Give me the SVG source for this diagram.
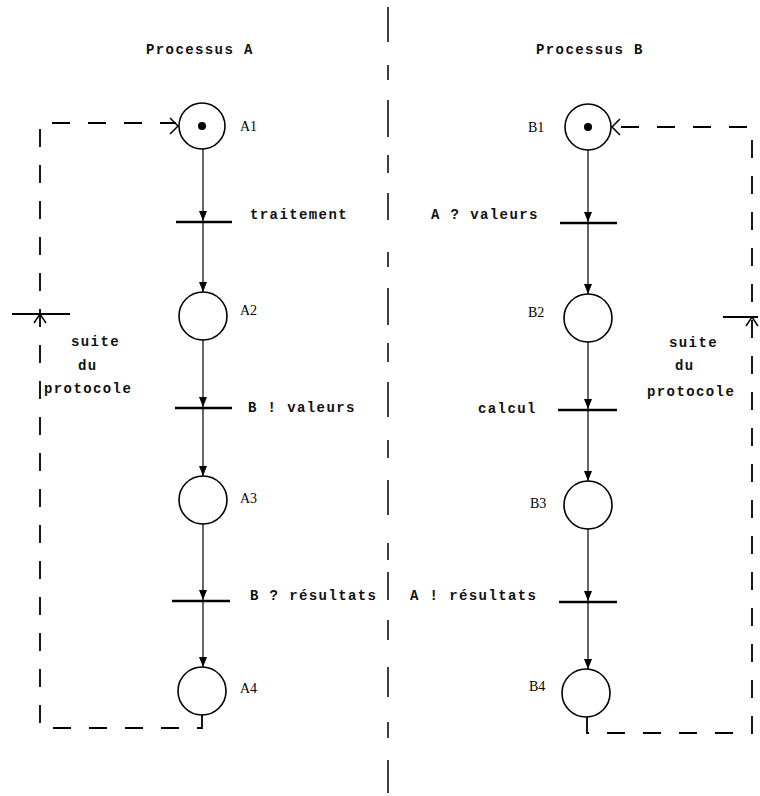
<svg xmlns="http://www.w3.org/2000/svg" width="760" height="796" viewBox="0 0 760 796">
<style>
.place{fill:none;stroke:#000;stroke-width:1.6}
.bar{stroke:#000;stroke-width:2.6}
.arc{stroke:#000;stroke-width:1.2;fill:none}
.dash{stroke:#000;stroke-width:1.8;fill:none;stroke-dasharray:18 18}
.open{stroke:#000;stroke-width:1.5;fill:none}
.txt{font-family:"Liberation Mono","DejaVu Sans Mono",monospace;font-size:14px;font-weight:bold;letter-spacing:1.4px;fill:#111}
.lbl{font-family:"Liberation Serif","DejaVu Serif",serif;font-size:14px;fill:#000}
</style>
<defs>
<marker id="ah" viewBox="0 0 10 8" refX="10" refY="4" markerWidth="10" markerHeight="8" markerUnits="userSpaceOnUse" orient="auto">
<path d="M0,0 L10,4 L0,8 Z" fill="#000"/>
</marker>
</defs>
<rect width="760" height="796" fill="#fff"/>
<g id="divider">
<path d="M388,7 V42 M388,65 V80 M388,100 V137 M388,155 V173 M388,193 V220 M388,252 V267 M388,288 V325 M388,343 V362 M388,382 V417 M388,440 V458 M388,480 V515 M388,543 V560 M388,572 V600 M388,620 V640 M388,667 V697 M388,722 V738 M388,760 V793" stroke="#000" stroke-width="1.5" fill="none"/>
</g>
<g id="titles">
<text class="txt" x="146" y="54">Processus A</text>
<text class="txt" x="536" y="54">Processus B</text>
</g>
<g id="connectors">
<line class="arc" x1="203" y1="149" x2="203" y2="221" marker-end="url(#ah)"/>
<line class="arc" x1="203" y1="221" x2="203" y2="292" marker-end="url(#ah)"/>
<line class="arc" x1="203" y1="340" x2="203" y2="407" marker-end="url(#ah)"/>
<line class="arc" x1="203" y1="407" x2="203" y2="476" marker-end="url(#ah)"/>
<line class="arc" x1="203" y1="524" x2="203" y2="600" marker-end="url(#ah)"/>
<line class="arc" x1="203" y1="600" x2="203" y2="667" marker-end="url(#ah)"/>
<line class="arc" x1="588" y1="150" x2="588" y2="222" marker-end="url(#ah)"/>
<line class="arc" x1="588" y1="222" x2="588" y2="294" marker-end="url(#ah)"/>
<line class="arc" x1="588" y1="342" x2="588" y2="409" marker-end="url(#ah)"/>
<line class="arc" x1="588" y1="409" x2="588" y2="481" marker-end="url(#ah)"/>
<line class="arc" x1="588" y1="529" x2="588" y2="601" marker-end="url(#ah)"/>
<line class="arc" x1="588" y1="601" x2="588" y2="669" marker-end="url(#ah)"/>
<path class="dash" d="M202,715 V728 H40 V123 H176"/>
<path class="open" d="M170,118 L178,126 L170,134"/>
<path class="dash" d="M587,717 V733 H752 V127 H613"/>
<path class="open" d="M620,119 L612,127 L620,135"/>
</g>
<g id="suiteA">
<line class="bar" x1="12" y1="314" x2="70" y2="314" style="stroke-width:1.8"/>
<path class="open" d="M34,323 L40,314 L46,323"/>
<text class="txt" x="71" y="346">suite</text>
<text class="txt" x="78" y="370">du</text>
<text class="txt" x="44" y="393">protocole</text>
</g>
<g id="suiteB">
<line class="bar" x1="723" y1="317" x2="758" y2="317" style="stroke-width:1.8"/>
<path class="open" d="M746,326 L752,317 L758,326"/>
<text class="txt" x="669" y="347">suite</text>
<text class="txt" x="675" y="370">du</text>
<text class="txt" x="647" y="396">protocole</text>
</g>
<g id="A1">
<circle class="place" cx="202" cy="126" r="23"/>
<circle cx="202" cy="126" r="4" fill="#000"/>
<text class="lbl" x="240" y="131">A1</text>
</g>
<g id="tA1">
<line class="bar" x1="176" y1="222" x2="232" y2="222"/>
<text class="txt" x="250" y="219">traitement</text>
</g>
<g id="A2">
<circle class="place" cx="203" cy="316" r="24"/>
<text class="lbl" x="240" y="315">A2</text>
</g>
<g id="tA2">
<line class="bar" x1="175" y1="408" x2="232" y2="408"/>
<text class="txt" x="248" y="412">B ! valeurs</text>
</g>
<g id="A3">
<circle class="place" cx="203" cy="500" r="24"/>
<text class="lbl" x="240" y="503">A3</text>
</g>
<g id="tA3">
<line class="bar" x1="172" y1="601" x2="230" y2="601"/>
<text class="txt" x="250" y="600">B ? résultats</text>
</g>
<g id="A4">
<circle class="place" cx="202" cy="691" r="24"/>
<text class="lbl" x="240" y="693">A4</text>
</g>
<g id="B1">
<circle class="place" cx="588" cy="127" r="23"/>
<circle cx="588" cy="127" r="4" fill="#000"/>
<text class="lbl" x="528" y="132">B1</text>
</g>
<g id="tB1">
<line class="bar" x1="560" y1="223" x2="617" y2="223"/>
<text class="txt" x="431" y="219">A ? valeurs</text>
</g>
<g id="B2">
<circle class="place" cx="588" cy="318" r="24"/>
<text class="lbl" x="528" y="317">B2</text>
</g>
<g id="tB2">
<line class="bar" x1="558" y1="410" x2="617" y2="410"/>
<text class="txt" x="478" y="413">calcul</text>
</g>
<g id="B3">
<circle class="place" cx="588" cy="505" r="24"/>
<text class="lbl" x="530" y="508">B3</text>
</g>
<g id="tB3">
<line class="bar" x1="559" y1="602" x2="617" y2="602"/>
<text class="txt" x="410" y="600">A ! résultats</text>
</g>
<g id="B4">
<circle class="place" cx="586" cy="693" r="24"/>
<text class="lbl" x="529" y="691">B4</text>
</g>
</svg>
